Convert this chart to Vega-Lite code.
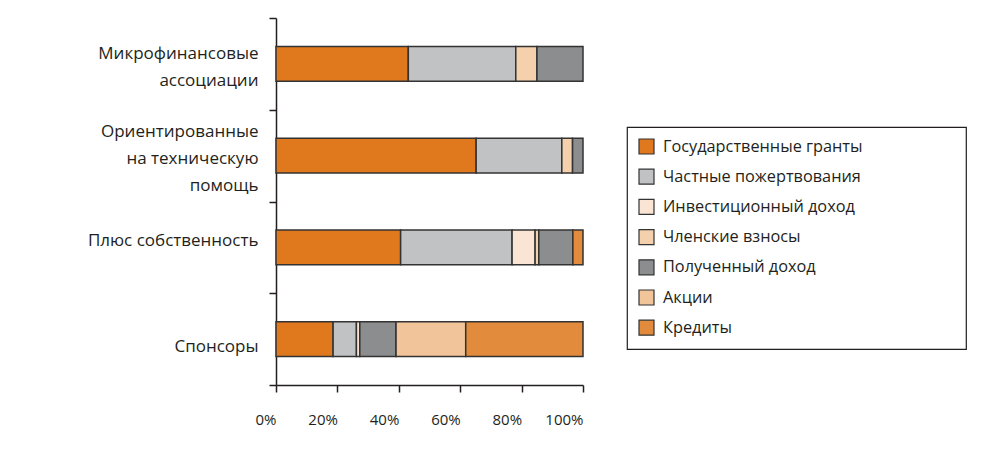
{
  "$schema": "https://vega.github.io/schema/vega-lite/v6.json",
  "width": 307,
  "height": 367,
  "autosize": "none",
  "padding": {"left": 276, "top": 18, "right": 421, "bottom": 71},
  "background": "white",
  "config": {
    "font": "Open Sans",
    "view": {"stroke": null},
    "axis": {"labelColor": "#231F20", "domainColor": "#231F20", "tickColor": "#231F20", "grid": false, "title": null}
  },
  "data": {
    "values": [
      {"org": "Микрофинансовые|ассоциации", "source": "Государственные гранты", "k": 1, "share": 43.1},
      {"org": "Микрофинансовые|ассоциации", "source": "Частные пожертвования", "k": 2, "share": 35.0},
      {"org": "Микрофинансовые|ассоциации", "source": "Членские взносы", "k": 4, "share": 6.9},
      {"org": "Микрофинансовые|ассоциации", "source": "Полученный доход", "k": 5, "share": 15.0},
      {"org": "Ориентированные|на техническую|помощь", "source": "Государственные гранты", "k": 1, "share": 65.2},
      {"org": "Ориентированные|на техническую|помощь", "source": "Частные пожертвования", "k": 2, "share": 27.9},
      {"org": "Ориентированные|на техническую|помощь", "source": "Членские взносы", "k": 4, "share": 3.5},
      {"org": "Ориентированные|на техническую|помощь", "source": "Полученный доход", "k": 5, "share": 3.4},
      {"org": "Плюс собственность", "source": "Государственные гранты", "k": 1, "share": 40.6},
      {"org": "Плюс собственность", "source": "Частные пожертвования", "k": 2, "share": 36.3},
      {"org": "Плюс собственность", "source": "Инвестиционный доход", "k": 3, "share": 7.5},
      {"org": "Плюс собственность", "source": "Членские взносы", "k": 4, "share": 1.2},
      {"org": "Плюс собственность", "source": "Полученный доход", "k": 5, "share": 11.1},
      {"org": "Плюс собственность", "source": "Кредиты", "k": 7, "share": 3.3},
      {"org": "Спонсоры", "source": "Государственные гранты", "k": 1, "share": 18.6},
      {"org": "Спонсоры", "source": "Частные пожертвования", "k": 2, "share": 7.6},
      {"org": "Спонсоры", "source": "Инвестиционный доход", "k": 3, "share": 1.1},
      {"org": "Спонсоры", "source": "Полученный доход", "k": 5, "share": 11.8},
      {"org": "Спонсоры", "source": "Акции", "k": 6, "share": 22.7},
      {"org": "Спонсоры", "source": "Кредиты", "k": 7, "share": 38.2}
    ]
  },
  "mark": {"type": "bar", "stroke": "#333333", "strokeWidth": 1.5, "height": {"band": 0.38}},
  "encoding": {
    "y": {
      "field": "org", "type": "nominal",
      "sort": ["Микрофинансовые|ассоциации", "Ориентированные|на техническую|помощь", "Плюс собственность", "Спонсоры"],
      "scale": {"paddingInner": 0, "paddingOuter": 0},
      "axis": {
        "labelExpr": "split(datum.label, '|')",
        "labelFontSize": 17, "labelLineHeight": 27,
        "tickBand": "extent", "tickSize": 7, "tickWidth": 1.5, "domainWidth": 1.5,
        "labelPadding": 11,
        "labelOffset": {
          "condition": [
            {"test": "datum.value == 'Микрофинансовые|ассоциации'", "value": -10},
            {"test": "datum.value == 'Ориентированные|на техническую|помощь'", "value": -24},
            {"test": "datum.value == 'Плюс собственность'", "value": -7}
          ],
          "value": 7
        }
      }
    },
    "x": {
      "field": "share", "type": "quantitative", "stack": "normalize",
      "scale": {"domain": [0, 1], "nice": false},
      "axis": {
        "format": "%", "values": [0, 0.2, 0.4, 0.6, 0.8, 1],
        "labelAlign": "right", "labelDx": 5, "labelFontSize": 15, "labelPadding": 20,
        "tickSize": 7, "tickWidth": 1.5, "domainWidth": 1.5
      }
    },
    "order": {"field": "k", "type": "quantitative"},
    "color": {
      "field": "source", "type": "nominal",
      "scale": {
        "domain": ["Государственные гранты", "Частные пожертвования", "Инвестиционный доход", "Членские взносы", "Полученный доход", "Акции", "Кредиты"],
        "range": ["#E0791E", "#C1C2C4", "#FAE4D3", "#F4D0AC", "#8C8D8E", "#F2C49A", "#E38B3C"]
      },
      "legend": {
        "orient": "none", "legendX": 351, "legendY": 109,
        "title": "\u00a0", "titleOrient": "right", "titlePadding": 92,
        "labelExpr": "(datum.label == 'Инвестиционный доход' || datum.label == 'Полученный доход') ? '\u00a0' + datum.label : datum.label",
        "symbolType": "square", "symbolSize": 225, "symbolStrokeColor": "#333333", "symbolStrokeWidth": 1.2,
        "labelFontSize": 16.3, "labelColor": "#231F20", "labelOffset": 8, "labelLimit": 400, "rowPadding": 9.2,
        "padding": 11, "strokeColor": "#231F20",
        "encode": {"legend": {"update": {"strokeWidth": {"value": 1.2}}}}
      }
    }
  }
}
